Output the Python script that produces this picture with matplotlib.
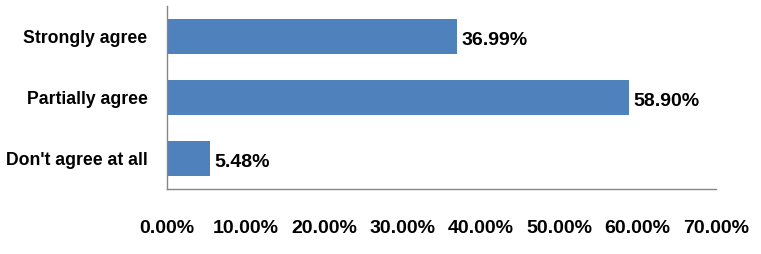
import matplotlib
matplotlib.use("Agg")
import matplotlib.pyplot as plt
from matplotlib.ticker import FuncFormatter

categories = ["Strongly agree", "Partially agree", "Don't agree at all"]
values = [36.99, 58.90, 5.48]
xticks = [0, 10, 20, 30, 40, 50, 60, 70]

plt.rcParams['font.family'] = ['Liberation Sans', 'DejaVu Sans']

fig = plt.figure(figsize=(7.61, 2.54), dpi=100)
ax = fig.add_axes([167/761, 1-189/254, (716-167)/761, (189-6)/254])

ypos = list(range(len(categories)))[::-1]
ax.barh(ypos, values, height=0.57, color="#4F81BD")
for y, v in zip(ypos, values):
    ax.text(v + 0.6, y - 0.03, f"{v:.2f}%", va="center_baseline", ha="left",
            fontsize=14, fontweight="bold", color="black")

ax.set_xlim(0, 70)
ax.set_ylim(-0.5, 2.5)
ax.set_yticks(ypos)
ax.set_yticklabels(categories, fontsize=12.7, fontweight="bold")
ax.set_xticks(xticks)
ax.xaxis.set_major_formatter(FuncFormatter(lambda x, p: f"{x:.2f}%"))
for lab in ax.get_xticklabels():
    lab.set_fontsize(14)
    lab.set_fontweight("bold")
ax.tick_params(axis="x", length=0, pad=22)
ax.tick_params(axis="y", length=0, pad=14)
for s in ["top", "right"]:
    ax.spines[s].set_visible(False)
for s in ["left", "bottom"]:
    ax.spines[s].set_color("#868686")
    ax.spines[s].set_linewidth(1)

fig.savefig("out.png", dpi=100)
